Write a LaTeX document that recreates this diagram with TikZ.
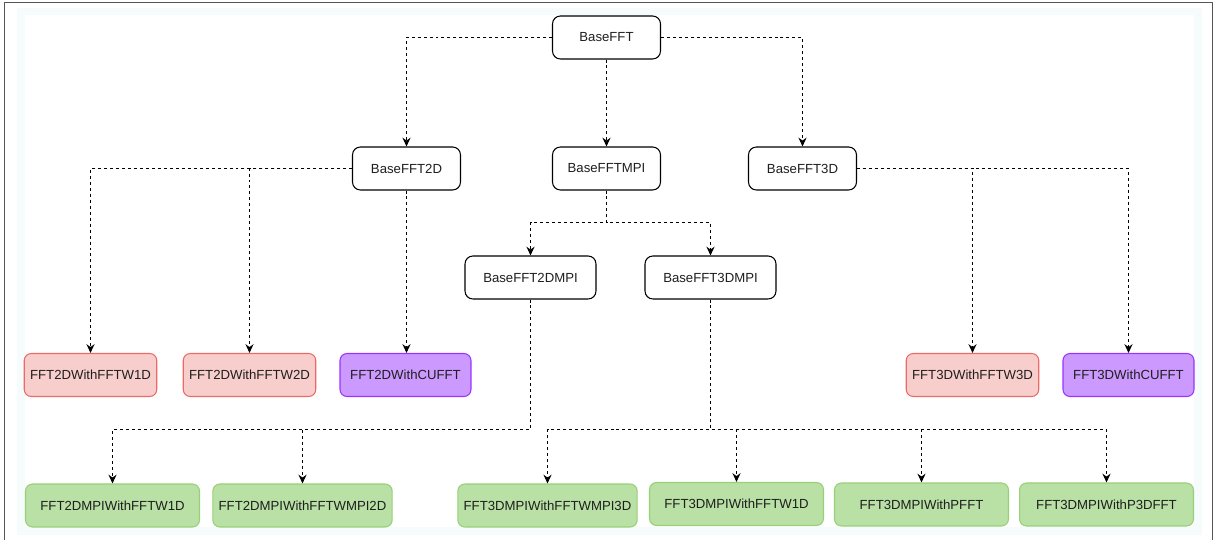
\documentclass[tikz,border=0pt]{standalone}
\usepackage{fontspec}
\setmainfont{Liberation Sans}
\usepackage{xcolor}
\usetikzlibrary{arrows.meta,positioning}
\definecolor{fftwfill}{HTML}{F8CECC}
\definecolor{fftwline}{HTML}{EA6B66}
\definecolor{cufftfill}{HTML}{CC99FF}
\definecolor{cufftline}{HTML}{9933FF}
\definecolor{mpifill}{HTML}{B9E0A5}
\definecolor{mpiline}{HTML}{97D077}
\definecolor{bandfill}{HTML}{F6FBFB}
\definecolor{framegray}{HTML}{555555}
\tikzset{%
	basebox/.style  = {draw, rectangle, rounded corners=4.5pt, line width=0.6pt, fill=white, minimum width=2.16cm, minimum height=0.86cm, text centered},
	fftwbox/.style  = {draw=fftwline, fill=fftwfill, rectangle, rounded corners=4pt, line width=0.6pt, minimum width=2.62cm, minimum height=0.86cm, text centered},
	cufftbox/.style = {draw=cufftline, fill=cufftfill, rectangle, rounded corners=4pt, line width=0.6pt, minimum width=2.62cm, minimum height=0.86cm, text centered},
	mpibox/.style   = {draw=mpiline, fill=mpifill, rectangle, rounded corners=4pt, line width=0.6pt, minimum width=2.62cm, minimum height=0.86cm, text centered},
	widebox/.style  = {minimum width=3.48cm},
	arrow/.style    = {line width=0.6pt, dash pattern=on 1.7pt off 1.7pt, -{Stealth[length=5pt,width=4.6pt]}},
}

\begin{document}
\begin{tikzpicture}[x=0.02cm,y=-0.02cm,font=\fontsize{7.5}{9}\selectfont,text=black!88]
		\useasboundingbox (0,0) rectangle (1214,540);
		\fill[bandfill] (17,8) rectangle (1202,535);
		\fill[white] (25,15) rectangle (1194,527);
		\draw[framegray,line width=0.9pt] (4.5,560) -- (4.5,2.5) -- (1212.5,2.5) -- (1212.5,560);
		
		\node[basebox] (basefft) at (606.5,37.5) {BaseFFT};
		\node[basebox] (basefft2d) at (406.5,168.5) {BaseFFT2D};
		\node[basebox] (basefftmpi) at (606.5,168.5) {BaseFFTMPI};
		\node[basebox] (basefft3d) at (802.5,168.5) {BaseFFT3D};
		\node[basebox,minimum width=2.62cm] (basefft2dmpi) at (530.5,277.5) {BaseFFT2DMPI};
		\node[basebox,minimum width=2.62cm] (basefft3dmpi) at (710.5,277.5) {BaseFFT3DMPI};
		
		\node[fftwbox] (fft2dfftw1d) at (90.5,375) {FFT2DWithFFTW1D};
		\node[fftwbox] (fft2dfftw2d) at (249.5,375) {FFT2DWithFFTW2D};
		\node[cufftbox] (fft2dcufft) at (405.5,375) {FFT2DWithCUFFT};
		\node[fftwbox] (fft3dfftw3d) at (972.5,375) {FFT3DWithFFTW3D};
		\node[cufftbox] (fft3dcufft) at (1128.5,375) {FFT3DWithCUFFT};
		
		\node[mpibox,widebox] (fft2dmpifftw1d) at (112.5,505.5) {FFT2DMPIWithFFTW1D};
		\node[mpibox,widebox] (fft2dmpifftwmpi) at (302.5,505.5) {FFT2DMPIWithFFTWMPI2D};
		\node[mpibox,widebox] (fft3dmpifftwmpi) at (547.5,505.5) {FFT3DMPIWithFFTWMPI3D};
		\node[mpibox,widebox] (fft3dmpifftw1d) at (736.5,504) {FFT3DMPIWithFFTW1D};
		\node[mpibox,widebox] (fft3dmpipfft) at (921.5,504.5) {FFT3DMPIWithPFFT};
		\node[mpibox,widebox] (fft3dmpip3dfft) at (1106.5,504.5) {FFT3DMPIWithP3DFFT};
		
		% first level
		\draw[arrow] (basefft.west) -| (basefft2d.north);
		\draw[arrow] (basefft.south) -- (basefftmpi.north);
		\draw[arrow] (basefft.east) -| (basefft3d.north);
		
		% serial 2D and 3D
		\foreach \n in {fft2dfftw1d,fft2dfftw2d} \draw[arrow] (basefft2d.west) -| (\n.north);
		\draw[arrow] (basefft2d.south) -- (basefft2d.south |- fft2dcufft.north);
		\foreach \n in {fft3dfftw3d,fft3dcufft} \draw[arrow] (basefft3d.east) -| (\n.north);
		
		% mpi
		\foreach \n in {basefft2dmpi,basefft3dmpi} \draw[arrow] (basefftmpi.south) -- ++(0,32) -| (\n.north);
		\foreach \n in {fft2dmpifftw1d,fft2dmpifftwmpi} \draw[arrow] (basefft2dmpi.south) -- ++(0,130) -| (\n.north);
		\foreach \n in {fft3dmpifftwmpi,fft3dmpifftw1d,fft3dmpipfft,fft3dmpip3dfft} \draw[arrow] (basefft3dmpi.south) -- ++(0,130) -| (\n.north);
	\end{tikzpicture}
\end{document}
